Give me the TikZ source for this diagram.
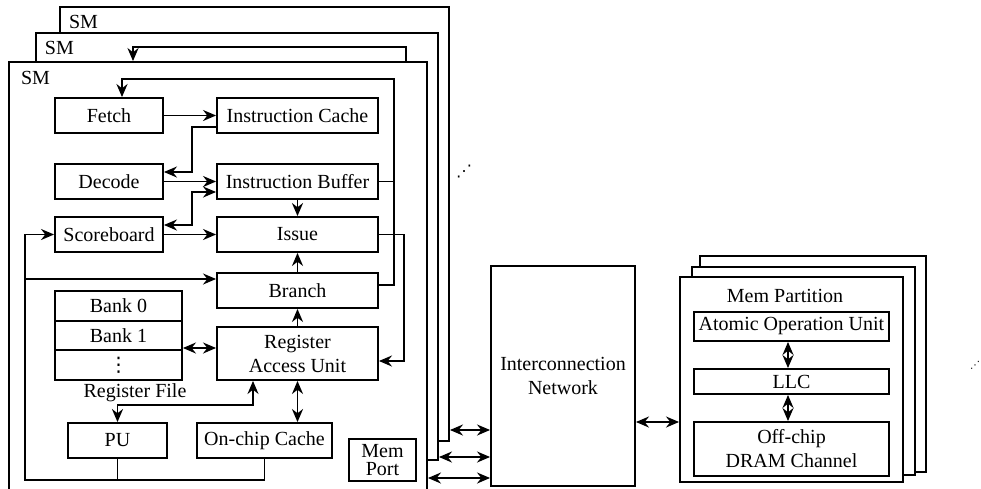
\documentclass[tikz,border=0pt]{standalone}
\usepackage{fontspec}
\setmainfont{Liberation Serif}
\newfontfamily\dotsfont{DejaVu Sans}
\usepackage{tikz}
\usetikzlibrary{shapes}
\usetikzlibrary{arrows.meta}

\begin{document}
\begin{tikzpicture}[x=0.5pt,y=-0.5pt,line width=0.95pt]
			\tikzset{unit/.style = {shape=rectangle,draw,fill=white,minimum width=54pt,
					minimum height=17.5pt, inner sep = 0pt}}
			\tikzset{frame/.style = {shape=rectangle,draw,fill=white,inner sep = 0pt}}
			\tikzset{edge/.style = {-{Stealth[length=6.5pt,width=5.5pt]}}}
			\tikzset{edgebi/.style = {{Stealth[length=6.5pt,width=5.5pt]}-{Stealth[length=6.5pt,width=5.5pt]}}}
			\tikzset{smlabel/.style = {anchor=north west, inner sep = 0pt}}
			\clip (0,0) rectangle (981,488);
			
			% SM stack
			\node[frame, minimum width=194.5pt, minimum height=217pt] (sm3) at (254.5,224) {};
			\node[smlabel] (sm3lab) at ([xshift=4.5pt,yshift=-4pt]sm3.north west) {SM};
			\node[frame, minimum width=201pt, minimum height=213.5pt] (sm2) at (237,246.5) {};
			\node[smlabel] (sm2lab) at ([xshift=4.5pt,yshift=-4pt]sm2.north west) {SM};
			\node[frame, minimum width=209pt, minimum height=225pt] (sm1) at (218,287) {};
			\node[smlabel] (sm1lab) at ([xshift=6pt,yshift=-4.5pt]sm1.north west) {SM};
			\draw[edge] (sm1.north -| 406,0) |- (133,47) -- (sm1.north -| 133,0);
			
			% vertices
			\node[unit] (fetch) at (109,115.5) {Fetch};
			\node[unit, minimum width=80.5pt] (icache) at (297.5,115.5) {Instruction Cache};
			\node[unit] (decode) at (109,181.5) {Decode};
			\node[unit, minimum width=80.5pt] (ibuf) at (297.5,181.5) {Instruction Buffer};
			\node[unit] (score) at (109,234.5) {Scoreboard};
			\node[unit, minimum width=80.5pt] (issue) at (297.5,234.5) {Issue};
			\node[unit, minimum width=80.5pt] (branch) at (297.5,290.5) {Branch};
			\node[unit, minimum width=80.5pt, minimum height=26.5pt, align=center] (rau)
				at (297.5,353.5) {Register\\Access Unit};
			\node[unit, minimum width=63.5pt, minimum height=14.83pt] (bank0) at (118.5,305.8) {Bank 0};
			\node[unit, minimum width=63.5pt, minimum height=14.83pt] (bank1) at (118.5,335.5) {Bank 1};
			\node[unit, minimum width=63.5pt, minimum height=14.83pt] (bankn) at (118.5,365.2) {\dotsfont ⋮};
			\node (regfile) at (135,393) {Register File};
			\node[unit, minimum width=49.5pt] (pu) at (117.5,440.5) {PU};
			\node[unit, minimum width=67.5pt] (occ) at (264.5,440.5) {On-chip Cache};
			\node[unit, minimum width=33.5pt, minimum height=21pt, align=center] (mport)
				at (382.5,460) {Mem\\[-3pt]Port};
			\node (smdots) at (464,172) {\dotsfont\footnotesize ⋰};
			
			\node[unit, minimum width=72pt, minimum height=110pt, align=center] (icn)
				at (563,376) {Interconnection\\Network};
			
			\node[frame, minimum width=113pt, minimum height=108pt] (mp3) at (813,364) {};
			\node[frame, minimum width=111.5pt, minimum height=104pt] (mp2) at (803.5,371) {};
			\node[frame, minimum width=111.5pt, minimum height=102.5pt] (mp1) at (791.5,379.5) {};
			\node (mplab) at (785,296) {Mem Partition};
			\node[unit, minimum width=97.5pt, minimum height=14.5pt] (aou) at (791.5,326.5) {Atomic Operation Unit};
			\node[unit, minimum width=97.5pt, minimum height=12.5pt] (llc) at (791.5,381.5) {LLC};
			\node[unit, minimum width=97.5pt, minimum height=27pt, align=center] (dram)
				at (791.5,449) {Off-chip\\DRAM Channel};
			\node (mpdots) at (975,365) {\dotsfont\tiny ⋰};
			
			%edges
			
			\draw[edge] (fetch) to (icache);
			\draw[edge] (icache.west |- 0,127) -| (192,172) -- (decode.east |- 0,172);
			\draw[edge] (decode) to (ibuf);
			\draw[edgebi] (score.east |- 0,225) -| (192,192) -- (ibuf.west |- 0,192);
			\draw[edge] (score) to (issue);
			\draw[edge] (ibuf) to (issue);
			\draw[edge] (branch) to (issue);
			\draw[edge] (rau) to (branch);
			\draw[edgebi] (bank1.east |- 0,348) -- (rau.west |- 0,348);
			\draw[edgebi] (rau.south) -- (rau.south |- occ.north);
			\draw[edgebi] (rau.south -| 253,0) |- (pu.north |- 0,405) -- (pu.north);
			\draw (pu.south) -- (pu.south |- 0,480);
			\draw[edge] (occ.south) |- (25,480) |- (score.west);
			\draw[edge] (25,279) -- (branch.west |- 0,279);
			\draw[edge] (issue.east) -| (404,361) -- (rau.east |- 0,361);
			\draw[edge] (branch.east |- 0,285) -| (394,79) -| (fetch.north -| 122,0);
			\draw (ibuf.east) -- (394,181.5);
			
			\draw[edgebi] (sm3.east |- 0,430) -- (icn.west |- 0,430);
			\draw[edgebi] (sm2.east |- 0,457) -- (icn.west |- 0,457);
			\draw[edgebi] (sm1.east |- 0,478) -- (icn.west |- 0,478);
			\draw[edgebi] (icn.east |- 0,422) -- (mp1.west |- 0,422);
			\draw[edgebi] (aou.south -| 788,0) -- (llc.north -| 788,0);
			\draw[edgebi] (llc.south -| 788,0) -- (dram.north -| 788,0);
			
\end{tikzpicture}
\end{document}
